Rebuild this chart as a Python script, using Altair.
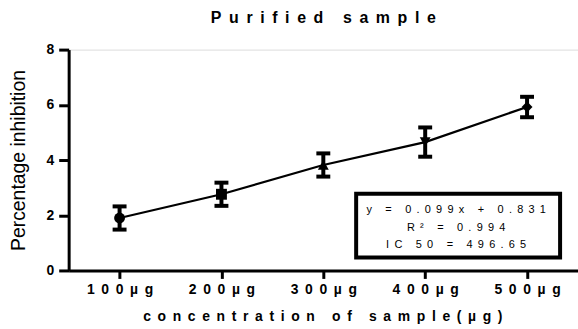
import altair as alt
import pandas as pd

NB = "\u00a0"
GAP = "\u00a0\u2009"

def spaced(s, gap=GAP):
    chars = [NB if c == " " else c for c in s]
    return gap.join(chars)

# data
categories = ["100µg", "200µg", "300µg", "400µg", "500µg"]
means = [1.90, 2.76, 3.82, 4.65, 5.92]
errors = [0.42, 0.42, 0.42, 0.53, 0.37]
shapes = ["circle", "square", "triangle-up", "triangle-down", "diamond"]

title_text = "Purified sample"
y_title = "Percentage inhibition"
x_title = "concentration of sample(µg)"
box_lines = ["y = 0.099x + 0.831", "R² = 0.994", "IC 50 = 496.65"]

labels = [spaced(c) for c in categories]
df = pd.DataFrame({
    "conc": labels,
    "mean": means,
    "lo": [m - e for m, e in zip(means, errors)],
    "hi": [m + e for m, e in zip(means, errors)],
    "shape": shapes,
})

FONT = "Liberation Sans"

x_enc = alt.X(
    "conc:N", sort=None,
    scale=alt.Scale(type="point", padding=0.5),
    axis=alt.Axis(
        title=spaced(x_title), titleFont=FONT, titleFontSize=14, titleFontWeight="bold",
        titleX=255, titleY=46, titleBaseline="middle", titleAlign="center",
        labelFont=FONT, labelFontSize=14, labelFontWeight="bold", labelAngle=0,
        labelPadding=4, tickSize=8, tickWidth=3, domainWidth=3,
        domainColor="black", tickColor="black", labelColor="black", titleColor="black",
    ),
)
y_scale = alt.Scale(domain=[0, 8], nice=False)
y_enc = alt.Y(
    "mean:Q",
    scale=y_scale,
    axis=alt.Axis(
        values=[0, 2, 4, 6, 8], title=y_title, titleFont=FONT, titleFontSize=19.5,
        titleFontWeight="normal", titleAngle=-90, titleX=-50, titleY=111,
        titleBaseline="middle", titleAlign="center",
        labelFont=FONT, labelFontSize=14, labelFontWeight="bold", labelPadding=5,
        tickSize=10, tickWidth=3, domainWidth=3, grid=False,
        domainColor="black", tickColor="black", labelColor="black", titleColor="black",
    ),
)

base = alt.Chart(df)

line = base.mark_line(color="black", strokeWidth=2.3).encode(x=x_enc, y=y_enc)
stems = base.mark_rule(color="black", strokeWidth=4).encode(
    x=x_enc, y=alt.Y("lo:Q", scale=y_scale), y2="hi:Q"
)
cap_lo = base.mark_tick(color="black", orient="horizontal", size=14, thickness=4, opacity=1).encode(
    x=x_enc, y=alt.Y("lo:Q", scale=y_scale)
)
cap_hi = base.mark_tick(color="black", orient="horizontal", size=14, thickness=4, opacity=1).encode(
    x=x_enc, y=alt.Y("hi:Q", scale=y_scale)
)
points = base.mark_point(filled=True, color="black", size=120, opacity=1).encode(
    x=x_enc, y=y_enc,
    shape=alt.Shape("shape:N", scale=None, legend=None),
)

box = alt.Chart(pd.DataFrame({"a": [0]})).mark_rect(
    fill="white", stroke="black", strokeWidth=4
).encode(
    x=alt.value(289), x2=alt.value(494), y=alt.value(145), y2=alt.value(209)
)

line_ys = [161.7, 179, 196.7]
texts = [
    alt.Chart(pd.DataFrame({"a": [0]})).mark_text(
        text=spaced(t), font=FONT, fontSize=11, color="black",
        align="center", baseline="middle"
    ).encode(x=alt.value(389.5), y=alt.value(yy))
    for t, yy in zip(box_lines, line_ys)
]

chart = alt.layer(line, stems, cap_lo, cap_hi, points, box, *texts).properties(
    width=512, height=222,
    padding={"left": 69, "top": 49, "right": 0, "bottom": 58},
    autosize=alt.AutoSizeParams(type="none"),
    title=alt.TitleParams(
        spaced(title_text), font=FONT, fontSize=16, fontWeight="bold", color="black",
        anchor="middle", offset=4, baseline="alphabetic",
    ),
).configure_view(stroke=None).configure(background="white")

chart.save("out.html", embed_options={"renderer": "svg", "actions": False})
